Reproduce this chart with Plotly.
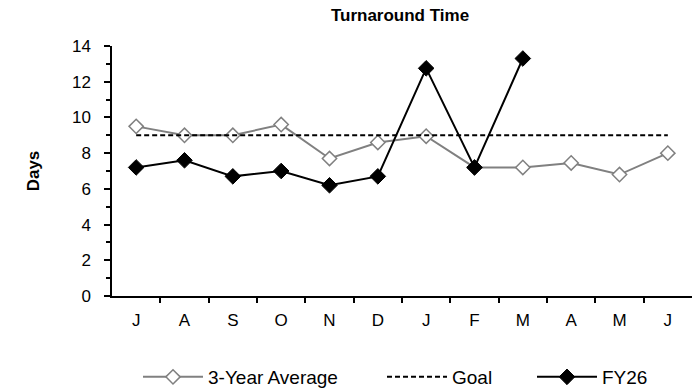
import plotly.graph_objects as go

months = ["J", "A", "S", "O", "N", "D", "J", "F", "M", "A", "M", "J"]
avg3 = [9.5, 9.0, 9.0, 9.6, 7.7, 8.6, 8.95, 7.2, 7.2, 7.45, 6.8, 8.0]
goal = [9] * 12
fy26 = [7.2, 7.6, 6.7, 7.0, 6.2, 6.7, 12.75, 7.2, 13.3]

x_idx = list(range(len(months)))

FONT = "Arial, Liberation Sans, sans-serif"
W, H = 699, 389

fig = go.Figure()
fig.add_trace(go.Scatter(
    x=x_idx, y=avg3, name="3-Year Average", mode="lines+markers",
    line=dict(color="#808080", width=2),
    marker=dict(symbol="diamond", size=11, color="white",
                line=dict(color="#808080", width=1.5)),
    legend="legend",
))
fig.add_trace(go.Scatter(
    x=x_idx, y=goal, name="Goal", mode="lines",
    line=dict(color="black", width=2, dash="5px,3px"),
    legend="legend2",
))
fig.add_trace(go.Scatter(
    x=x_idx[:len(fy26)], y=fy26, name="FY26", mode="lines+markers",
    line=dict(color="black", width=2),
    marker=dict(symbol="diamond", size=12, color="black",
                line=dict(color="black", width=1)),
    legend="legend3",
))

leg_common = dict(orientation="h", xref="container", yref="container",
                  xanchor="left", yanchor="middle", y=1 - 377 / H,
                  font=dict(size=19, family=FONT, color="black"),
                  itemwidth=60, bgcolor="rgba(0,0,0,0)", borderwidth=0)

fig.update_layout(
    width=W, height=H,
    margin=dict(l=112, r=7, t=46, b=93),
    paper_bgcolor="white", plot_bgcolor="white",
    font=dict(family=FONT, size=17, color="black"),
    title=dict(text="<b>Turnaround Time</b>", x=400 / W, xref="container",
               y=1 - 15 / H, yref="container", xanchor="center", yanchor="middle",
               font=dict(size=17, family=FONT, color="black")),
    showlegend=True,
    legend=dict(leg_common, x=138 / W),
    legend2=dict(leg_common, x=382 / W),
    legend3=dict(leg_common, x=532 / W),
)
fig.update_xaxes(
    type="linear", range=[-0.5, 11.5],
    tickmode="array", tickvals=x_idx, ticktext=months,
    ticks="", showline=True, linecolor="black", linewidth=1.5,
    showgrid=False, zeroline=False, tickfont=dict(size=17),
    minor=dict(tickmode="array", tickvals=[i + 0.5 for i in x_idx[:-1]],
               ticks="outside", ticklen=5, tickcolor="black", tickwidth=1.5,
               showgrid=False),
    ticklabelstandoff=8,
)
fig.update_yaxes(
    range=[0, 14], dtick=2, tick0=0,
    ticks="outside", ticklen=6, tickwidth=1.5, tickcolor="black",
    showline=True, linecolor="black", linewidth=1.5,
    showgrid=False, zeroline=False, tickfont=dict(size=17),
    minor=dict(dtick=1, ticks="outside", ticklen=4, tickcolor="black",
               tickwidth=1.5, showgrid=False),
    ticklabelstandoff=10,
    title=dict(text="<b>Days</b>", font=dict(size=17, family=FONT), standoff=28),
)

fig.write_html("out.html", config={"displayModeBar": False},
               post_script="document.body.style.margin='0';")
